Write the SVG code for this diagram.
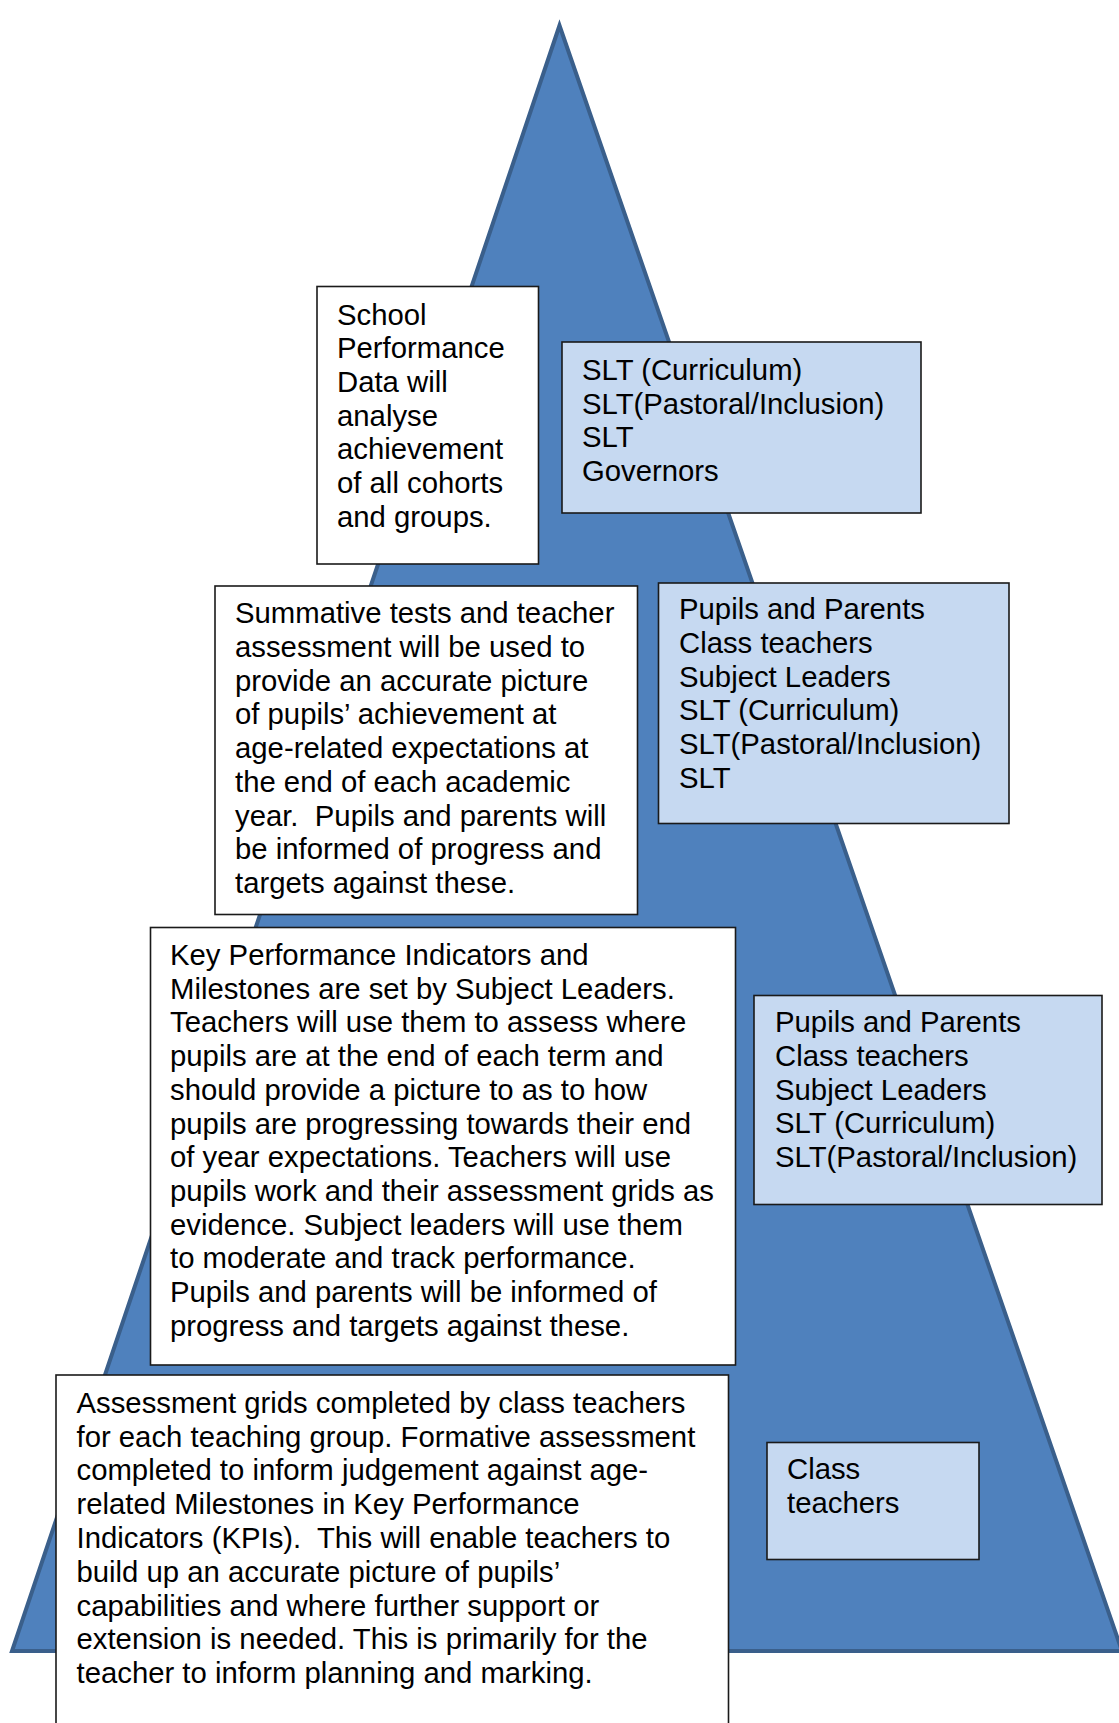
<svg xmlns="http://www.w3.org/2000/svg" width="1119" height="1723" viewBox="0 0 1119 1723">
<style>
.box{stroke:#1a1a1a;stroke-width:1.6}
.w{fill:#ffffff}
.b{fill:#c6d9f1}
text{font-family:"Liberation Sans",Arial,sans-serif;font-size:29.3px;fill:#000;white-space:pre}
</style>
<rect width="1119" height="1723" fill="#ffffff"/>
<g id="pyramid">
<polygon points="559.5,25.5 12,1651 1122,1651" fill="#4f81bd" stroke="#3a5f8b" stroke-width="4" stroke-linejoin="miter"/>
</g>
<g id="connectors"></g>
<g id="node-school-data">
<rect class="box w" x="317" y="286.5" width="221.5" height="277.5"/>
<text x="337"><tspan x="337" y="324.5">School</tspan><tspan x="337" y="358.2">Performance</tspan><tspan x="337" y="391.9">Data will</tspan><tspan x="337" y="425.6">analyse</tspan><tspan x="337" y="459.3">achievement</tspan><tspan x="337" y="493">of all cohorts</tspan><tspan x="337" y="526.7">and groups.</tspan></text>
</g>
<g id="node-slt">
<rect class="box b" x="562" y="342" width="359" height="171"/>
<text><tspan x="582" y="380">SLT (Curriculum)</tspan><tspan x="582" y="413.7">SLT(Pastoral/Inclusion)</tspan><tspan x="582" y="447.4">SLT</tspan><tspan x="582" y="481.1">Governors</tspan></text>
</g>
<g id="node-summative">
<rect class="box w" x="215" y="586" width="422.5" height="328.5"/>
<text><tspan x="235" y="623.3">Summative tests and teacher</tspan><tspan x="235" y="657">assessment will be used to</tspan><tspan x="235" y="690.7">provide an accurate picture</tspan><tspan x="235" y="724.4">of pupils’ achievement at</tspan><tspan x="235" y="758.1">age-related expectations at</tspan><tspan x="235" y="791.8">the end of each academic</tspan><tspan x="235" y="825.5">year.  Pupils and parents will</tspan><tspan x="235" y="859.2">be informed of progress and</tspan><tspan x="235" y="892.9">targets against these.</tspan></text>
</g>
<g id="node-pupils-1">
<rect class="box b" x="658.5" y="583" width="350.5" height="240.5"/>
<text><tspan x="679" y="619.3">Pupils and Parents</tspan><tspan x="679" y="653">Class teachers</tspan><tspan x="679" y="686.7">Subject Leaders</tspan><tspan x="679" y="720.4">SLT (Curriculum)</tspan><tspan x="679" y="754.1">SLT(Pastoral/Inclusion)</tspan><tspan x="679" y="787.8">SLT</tspan></text>
</g>
<g id="node-kpi">
<rect class="box w" x="150.5" y="927.5" width="585" height="437.5"/>
<text><tspan x="170" y="965">Key Performance Indicators and</tspan><tspan x="170" y="998.7">Milestones are set by Subject Leaders.</tspan><tspan x="170" y="1032.4">Teachers will use them to assess where</tspan><tspan x="170" y="1066.1">pupils are at the end of each term and</tspan><tspan x="170" y="1099.8">should provide a picture to as to how</tspan><tspan x="170" y="1133.5">pupils are progressing towards their end</tspan><tspan x="170" y="1167.2">of year expectations. Teachers will use</tspan><tspan x="170" y="1200.9">pupils work and their assessment grids as</tspan><tspan x="170" y="1234.6">evidence. Subject leaders will use them</tspan><tspan x="170" y="1268.3">to moderate and track performance.</tspan><tspan x="170" y="1302">Pupils and parents will be informed of</tspan><tspan x="170" y="1335.7">progress and targets against these.</tspan></text>
</g>
<g id="node-pupils-2">
<rect class="box b" x="754" y="995.5" width="348" height="209"/>
<text><tspan x="775" y="1032.3">Pupils and Parents</tspan><tspan x="775" y="1066">Class teachers</tspan><tspan x="775" y="1099.7">Subject Leaders</tspan><tspan x="775" y="1133.4">SLT (Curriculum)</tspan><tspan x="775" y="1167.1">SLT(Pastoral/Inclusion)</tspan></text>
</g>
<g id="node-assessment">
<rect class="box w" x="56" y="1375" width="672.5" height="370"/>
<text><tspan x="76.5" y="1412.7">Assessment grids completed by class teachers</tspan><tspan x="76.5" y="1446.5">for each teaching group. Formative assessment</tspan><tspan x="76.5" y="1480.3">completed to inform judgement against age-</tspan><tspan x="76.5" y="1514.1">related Milestones in Key Performance</tspan><tspan x="76.5" y="1547.9">Indicators (KPIs).  This will enable teachers to</tspan><tspan x="76.5" y="1581.7">build up an accurate picture of pupils’</tspan><tspan x="76.5" y="1615.5">capabilities and where further support or</tspan><tspan x="76.5" y="1649.3">extension is needed. This is primarily for the</tspan><tspan x="76.5" y="1683.1">teacher to inform planning and marking.</tspan></text>
</g>
<g id="node-class-teachers">
<rect class="box b" x="767" y="1442.5" width="212" height="117"/>
<text><tspan x="787" y="1479">Class</tspan><tspan x="787" y="1513.3">teachers</tspan></text>
</g>
</svg>
